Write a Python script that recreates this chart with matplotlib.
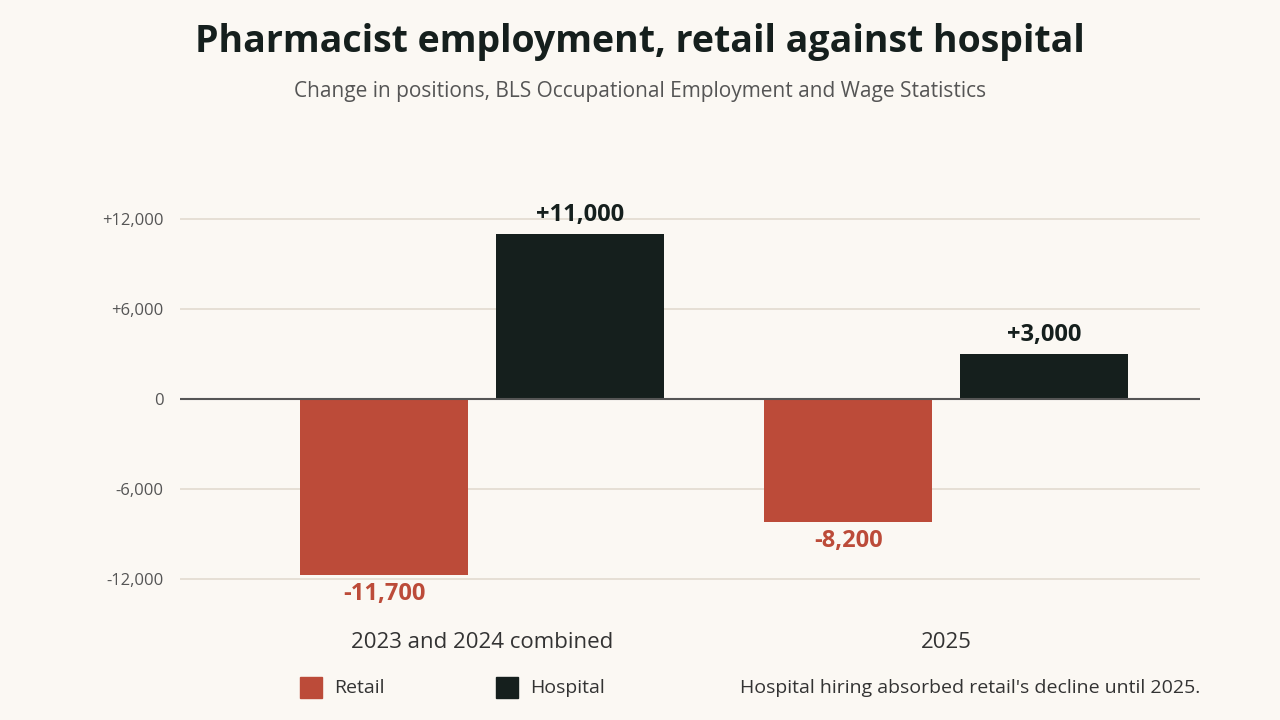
import matplotlib.pyplot as plt
from matplotlib.patches import Rectangle

categories = ["2023 and 2024 combined", "2025"]
retail = [-11700, -8200]
hospital = [11000, 3000]
yticks = [-12000, -6000, 0, 6000, 12000]
ytick_labels = ["-12,000", "-6,000", "0", "+6,000", "+12,000"]

BG = "#fbf8f3"; RED = "#bc4b39"; DARK = "#151f1d"; GRID = "#e2dbcf"
plt.rcParams['font.family'] = ['Open Sans', 'DejaVu Sans']

fig = plt.figure(figsize=(12.8, 7.2), dpi=100, facecolor=BG)
ax = fig.add_axes([180/1280, 1-600/720, 1020/1280, 420/720], facecolor=BG)
x = [0, 1]
w = 0.362; off = 0.211
ax.bar([i - off for i in x], retail, w, color=RED, zorder=3)
ax.bar([i + off for i in x], hospital, w, color=DARK, zorder=3)
ax.set_xlim(-0.651, 1.547)
ax.set_ylim(-13400, 14600)
ax.set_yticks(yticks)
ax.set_yticklabels(ytick_labels, color="#555", fontsize=12)
ax.tick_params(axis='y', length=0, pad=12)
ax.tick_params(axis='x', length=0)
ax.set_xticks([])
for y in yticks:
    if y != 0:
        ax.axhline(y, color=GRID, lw=1.2, zorder=1)
ax.axhline(0, color="#555", lw=1.5, zorder=4)
for s in ax.spines.values():
    s.set_visible(False)
for i in x:
    ax.text(i - off, retail[i] - 500, f"{retail[i]:,}", ha='center', va='top',
            color=RED, fontsize=17, fontweight='bold')
    ax.text(i + off, hospital[i] + 500, f"+{hospital[i]:,}", ha='center', va='bottom',
            color=DARK, fontsize=17, fontweight='bold')
    ax.text(i, -13400 - 43*1000/15*0 , "", ha='center')
for i, c in enumerate(categories):
    fig.text((180 + (i + 0.651) * 464) / 1280, 1 - 643/720, c, ha='center', va='center',
             fontsize=16, color="#333")

fig.text(640/1280, 1 - 42/720, "Pharmacist employment, retail against hospital",
         ha='center', va='center', fontsize=27, fontweight='bold', color=DARK)
fig.text(640/1280, 1 - 92/720, "Change in positions, BLS Occupational Employment and Wage Statistics",
         ha='center', va='center', fontsize=15, color="#555")

for xs, col, lab in [(300, RED, "Retail"), (496, DARK, "Hospital")]:
    fig.patches.append(Rectangle((xs/1280, 1-698/720), 22/1280, 21/720,
                                 transform=fig.transFigure, color=col))
    fig.text((xs + 34)/1280, 1 - 688/720, lab, va='center', fontsize=14, color="#333")
fig.text(1200/1280, 1 - 688/720, "Hospital hiring absorbed retail's decline until 2025.",
         ha='right', va='center', fontsize=14, color="#333")

fig.savefig("out.png", dpi=100, facecolor=BG)
